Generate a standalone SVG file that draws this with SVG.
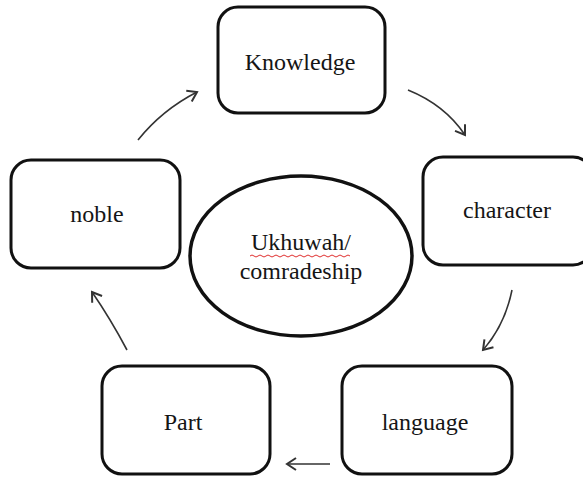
<svg xmlns="http://www.w3.org/2000/svg" width="583" height="479" viewBox="0 0 583 479">
<style>
.box{fill:#fff;stroke:#111;stroke-width:3}
.lbl{font-family:"Liberation Serif","Times New Roman",serif;font-size:24px;fill:#151515;text-anchor:middle}
.conn{fill:none;stroke:#333;stroke-width:1.6}
</style>
<defs>
<marker id="ah" markerUnits="userSpaceOnUse" markerWidth="16" markerHeight="16" refX="12" refY="8" orient="auto">
<path d="M3,2 L12,8 L3,14" fill="none" stroke="#333" stroke-width="2"/>
</marker>
</defs>
<rect width="583" height="479" fill="#fff"/>
<g id="connectors">
<path class="conn" d="M138,140 Q162,110 197,92" marker-end="url(#ah)"/>
<path class="conn" d="M408,90 Q445,105 465,135" marker-end="url(#ah)"/>
<path class="conn" d="M512,290 Q505,325 483,350" marker-end="url(#ah)"/>
<path class="conn" d="M330,464 L287,464" marker-end="url(#ah)"/>
<path class="conn" d="M127,350 Q110,318 92,292" marker-end="url(#ah)"/>
</g>
<g id="center">
<ellipse class="box" cx="301" cy="256" rx="111" ry="80" style="stroke-width:3.5"/>
<text class="lbl" x="301" y="250">Ukhuwah/</text>
<path d="M250,256 q2,-2 4,0 t4,0 t4,0 t4,0 t4,0 t4,0 t4,0 t4,0 t4,0 t4,0 t4,0 t4,0 t4,0 t4,0 t4,0 t4,0 t4,0 t4,0 t4,0 t4,0 t4,0 t4,0 t4,0 t4,0 t4,0" fill="none" stroke="#e03030" stroke-width="1"/>
<text class="lbl" x="301" y="279">comradeship</text>
</g>
<g id="knowledge">
<rect class="box" x="218" y="7" width="167" height="106" rx="20"/>
<text class="lbl" x="300" y="70">Knowledge</text>
</g>
<g id="character">
<rect class="box" x="423" y="157" width="170" height="108" rx="20"/>
<text class="lbl" x="507" y="218">character</text>
</g>
<g id="language">
<rect class="box" x="342" y="366" width="170" height="108" rx="20"/>
<text class="lbl" x="425" y="430">language</text>
</g>
<g id="part">
<rect class="box" x="102" y="366" width="168" height="108" rx="20"/>
<text class="lbl" x="183" y="430">Part</text>
</g>
<g id="noble">
<rect class="box" x="11" y="160" width="169" height="108" rx="20"/>
<text class="lbl" x="97" y="222">noble</text>
</g>
</svg>
